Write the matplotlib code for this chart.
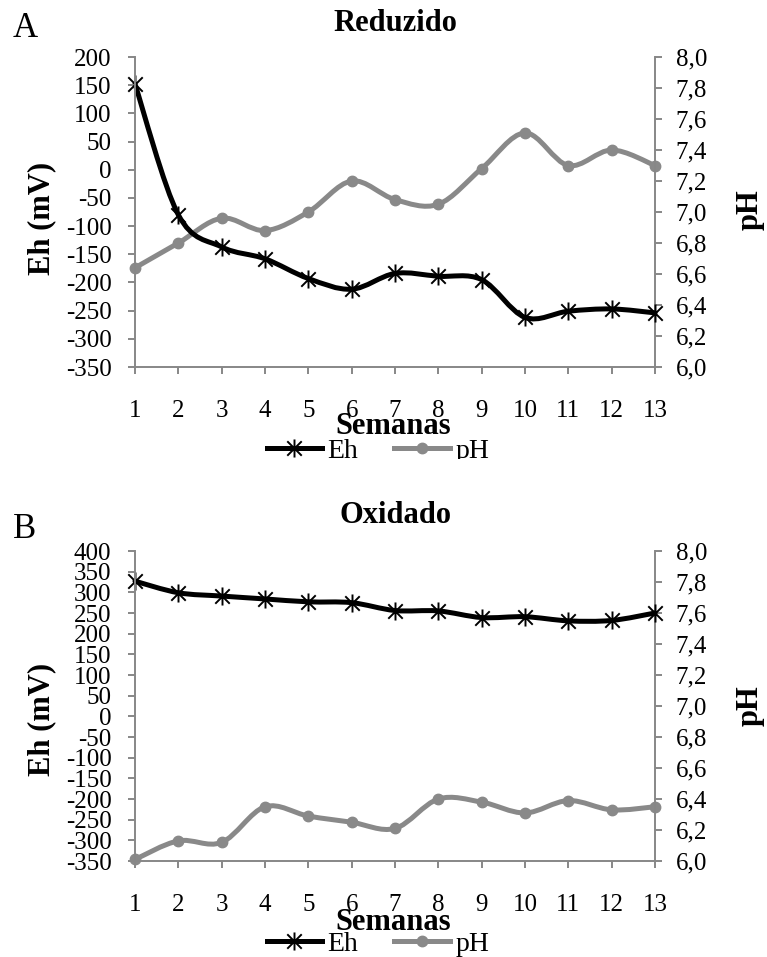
import matplotlib
import numpy as np

matplotlib.use("Agg")
import matplotlib.pyplot as plt  # noqa: E402
from matplotlib.lines import Line2D  # noqa: E402
from matplotlib.patches import PathPatch, Rectangle  # noqa: E402
from matplotlib.path import Path  # noqa: E402

W, H = 767, 957
GREY = "#898989"
SPINE = "#878787"

plt.rcParams.update({
    "font.family": ["Liberation Serif", "DejaVu Serif"],
    "axes.linewidth": 1.4,
    "axes.unicode_minus": False,
})

weeks = list(range(1, 14))

# A - Reduzido
eh_red = [152, -80, -137, -158, -193, -212, -184, -189, -195, -262, -251, -247, -254]
ph_red = [6.64, 6.80, 6.96, 6.88, 7.00, 7.20, 7.08, 7.05, 7.28, 7.51, 7.30, 7.40, 7.30]

# B - Oxidado
eh_oxi = [327, 299, 291, 284, 277, 275, 256, 255, 239, 241, 231, 232, 250]
ph_oxi = [6.01, 6.13, 6.12, 6.35, 6.29, 6.25, 6.21, 6.40, 6.38, 6.31, 6.39, 6.33, 6.35]

eh_ticks_red = list(range(-350, 201, 50))
eh_ticks_oxi = list(range(-350, 401, 50))
ph_ticks = [6.0, 6.2, 6.4, 6.6, 6.8, 7.0, 7.2, 7.4, 7.6, 7.8, 8.0]
ph_labels = [f"{v:.1f}".replace(".", ",") for v in ph_ticks]

# asterisk marker (X plus vertical bar), like Excel's star
AST = Path([(-1, -1), (1, 1), (-1, 1), (1, -1), (0, -1.25), (0, 1.25)],
           [Path.MOVETO, Path.LINETO] * 3)


def fx(x):
    return x / W


def fy(y):
    return 1 - y / H


def smooth(x, y):
    """Excel-like smoothed line: Catmull-Rom as cubic Bezier segments."""
    pts = np.column_stack([x, y]).astype(float)
    n = len(pts)
    verts, codes = [pts[0]], [Path.MOVETO]
    for i in range(n - 1):
        p0, p1 = pts[max(i - 1, 0)], pts[i]
        p2, p3 = pts[i + 1], pts[min(i + 2, n - 1)]
        verts += [p1 + (p2 - p0) / 6, p2 - (p3 - p1) / 6, p2]
        codes += [Path.CURVE4] * 3
    return Path(verts, codes)


def panel(fig, top, eh, ph, eh_ticks, letter, title, marks):
    ax = fig.add_axes([fx(135), fy(top + 310), fx(520), 310 / H])
    ax2 = ax.twinx()
    ax.set_zorder(ax2.get_zorder() + 1)
    ax.patch.set_visible(False)

    ax2.add_patch(PathPatch(smooth(weeks, ph), fill=False, edgecolor=GREY, lw=3.6,
                            capstyle="round", joinstyle="round", clip_on=False))
    ax2.plot(weeks, ph, linestyle="none", marker="o", ms=7.5, color=GREY, clip_on=False)
    ax.add_patch(PathPatch(smooth(weeks, eh), fill=False, edgecolor="black", lw=3.6,
                           capstyle="round", joinstyle="round", clip_on=False))
    ax.plot(weeks, eh, linestyle="none", marker=AST, ms=13, mec="black", mew=1.4,
            clip_on=False)

    ax.set_xlim(1, 13)
    ax.set_ylim(eh_ticks[0], eh_ticks[-1])
    ax.set_xticks(weeks)
    ax.set_yticks(eh_ticks)
    ax2.set_ylim(6.0, 8.0)
    ax2.set_yticks(ph_ticks, ph_labels)

    for a in (ax, ax2):
        for s in a.spines.values():
            s.set_color(SPINE)
        a.spines["top"].set_visible(False)
    ax.spines["right"].set_visible(False)
    ax2.spines["left"].set_visible(False)
    ax2.spines["bottom"].set_visible(False)

    ax.tick_params(axis="x", length=5, width=1.4, color=SPINE, labelsize=18, pad=19)
    ax.tick_params(axis="y", length=5, width=1.4, color=SPINE, labelsize=18, pad=12)
    ax2.tick_params(axis="y", length=5, width=1.4, color=SPINE, labelsize=18, pad=10)

    fig.text(fx(13), fy(marks["letter"]), letter, fontsize=25, va="baseline")
    fig.text(fx(395), fy(marks["title"]), title, fontsize=22, fontweight="bold",
             ha="center", va="baseline")
    fig.text(fx(42), fy(marks["eh"]), "Eh (mV)", fontsize=22, fontweight="bold",
             rotation=90, ha="center", va="center")
    fig.text(fx(750), fy(marks["ph"]), "pH", fontsize=22, fontweight="bold",
             rotation=90, ha="center", va="center")
    fig.text(fx(393), fy(marks["xlab"]), "Semanas", fontsize=22, fontweight="bold",
             ha="center", va="baseline")

    handles = [
        Line2D([], [], color="black", lw=3.6, marker=AST, ms=13, mec="black", mew=1.4),
        Line2D([], [], color=GREY, lw=3.6, marker="o", ms=7.5),
    ]
    fig.legend(handles, ["Eh", "pH"], loc="center", ncol=2, frameon=False,
               bbox_to_anchor=(fx(378), fy(marks["leg"])), fontsize=20,
               handlelength=2.0, handletextpad=0.2, columnspacing=1.3,
               borderpad=0, borderaxespad=0)
    return ax, ax2


fig = plt.figure(figsize=(W / 100, H / 100), dpi=100)

panel(fig, 57, eh_red, ph_red, eh_ticks_red, "A", "Reduzido",
      {"letter": 37, "title": 31, "eh": 218, "ph": 210, "xlab": 434, "leg": 451})
panel(fig, 551, eh_oxi, ph_oxi, eh_ticks_oxi, "B", "Oxidado",
      {"letter": 538, "title": 523, "eh": 719, "ph": 706, "xlab": 930, "leg": 944})

# the original figure is cropped just under the first legend
fig.add_artist(Rectangle((0, fy(492)), 1, (492 - 459) / H, transform=fig.transFigure,
                         facecolor="white", edgecolor="none", zorder=10))

fig.savefig("out.png", dpi=100)
